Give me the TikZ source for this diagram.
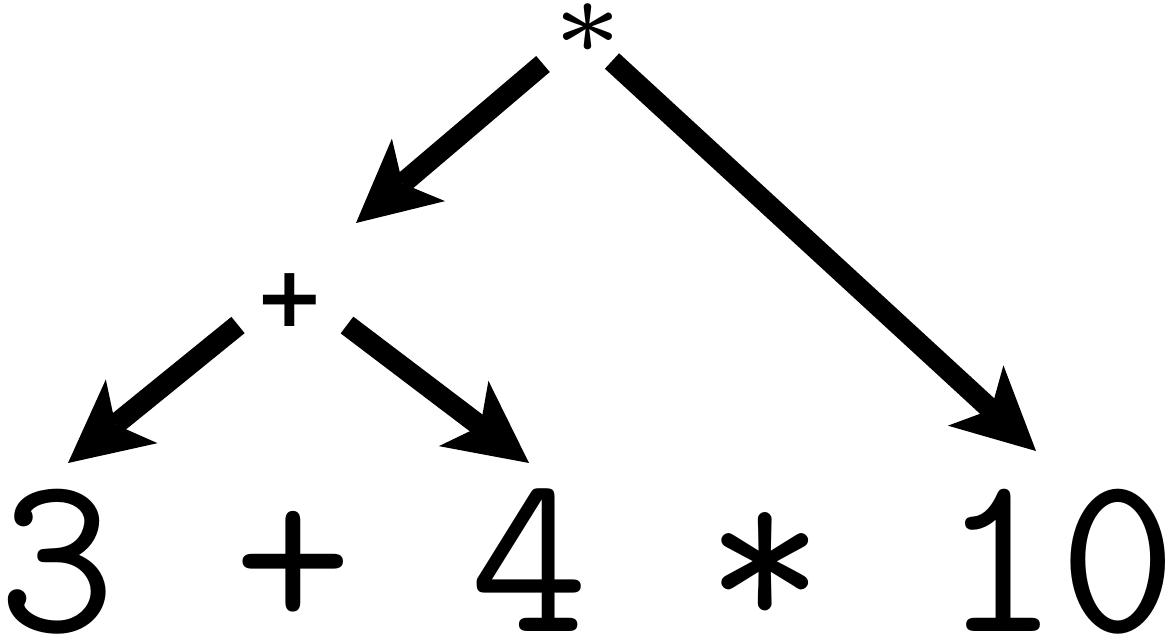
\documentclass[tikz,border=0pt]{standalone}
\usepackage{fontspec}
\usepackage{graphicx}
\usepackage{tikz}
\usetikzlibrary{arrows.meta}
\newfontfamily\opfont{DejaVu Sans}
\definecolor{treeink}{HTML}{000000}

\tikzset{
  tok/.style={inner sep=0pt,anchor=base,text=treeink,
    font=\fontsize{65}{70}\selectfont\ttfamily},
  op/.style={inner sep=0pt,text=treeink},
  edge/.style={treeink,line width=2.1mm,
    -{Stealth[length=8.2mm,width=8.2mm,inset=2.1mm,line width=0pt]}}
}

\begin{document}
\begin{tikzpicture}[x=1cm,y=1cm]
  \useasboundingbox (0,0) rectangle (11.75,6.37);
  % the expression
  \node[tok] (n3)    at (0.57,0.06)  {3};
  \node[tok] (nplus) at (2.93,0.06)  {+};
  \node[tok] (n4)    at (5.29,0.06)  {4};
  \node[tok] (nstar) at (7.65,0.06)  {*};
  \node[tok] (n10)   at (10.59,0.06) {10};
  % the tree above it
  \node[op] (rstar) at (5.88,6.08) {\scalebox{6.1}{\fontsize{5}{6}\selectfont$\ast$}};
  \node[op,font=\fontsize{24}{28}\selectfont\opfont\bfseries] (rplus) at (2.90,3.37) {+};
  \draw[edge] ([shift={(-0.45,-0.35)}]rstar.center) -- ([shift={(0.66,0.77)}]rplus.center);
  \draw[edge] ([shift={(0.24,-0.32)}]rstar.center) -- ([shift={(-0.23,1.80)}]n10.base);
  \draw[edge] ([shift={(-0.52,-0.25)}]rplus.center) -- ([shift={(0.11,1.68)}]n3.base);
  \draw[edge] ([shift={(0.57,-0.25)}]rplus.center) -- ([shift={(0,1.68)}]n4.base);
\end{tikzpicture}
\end{document}
